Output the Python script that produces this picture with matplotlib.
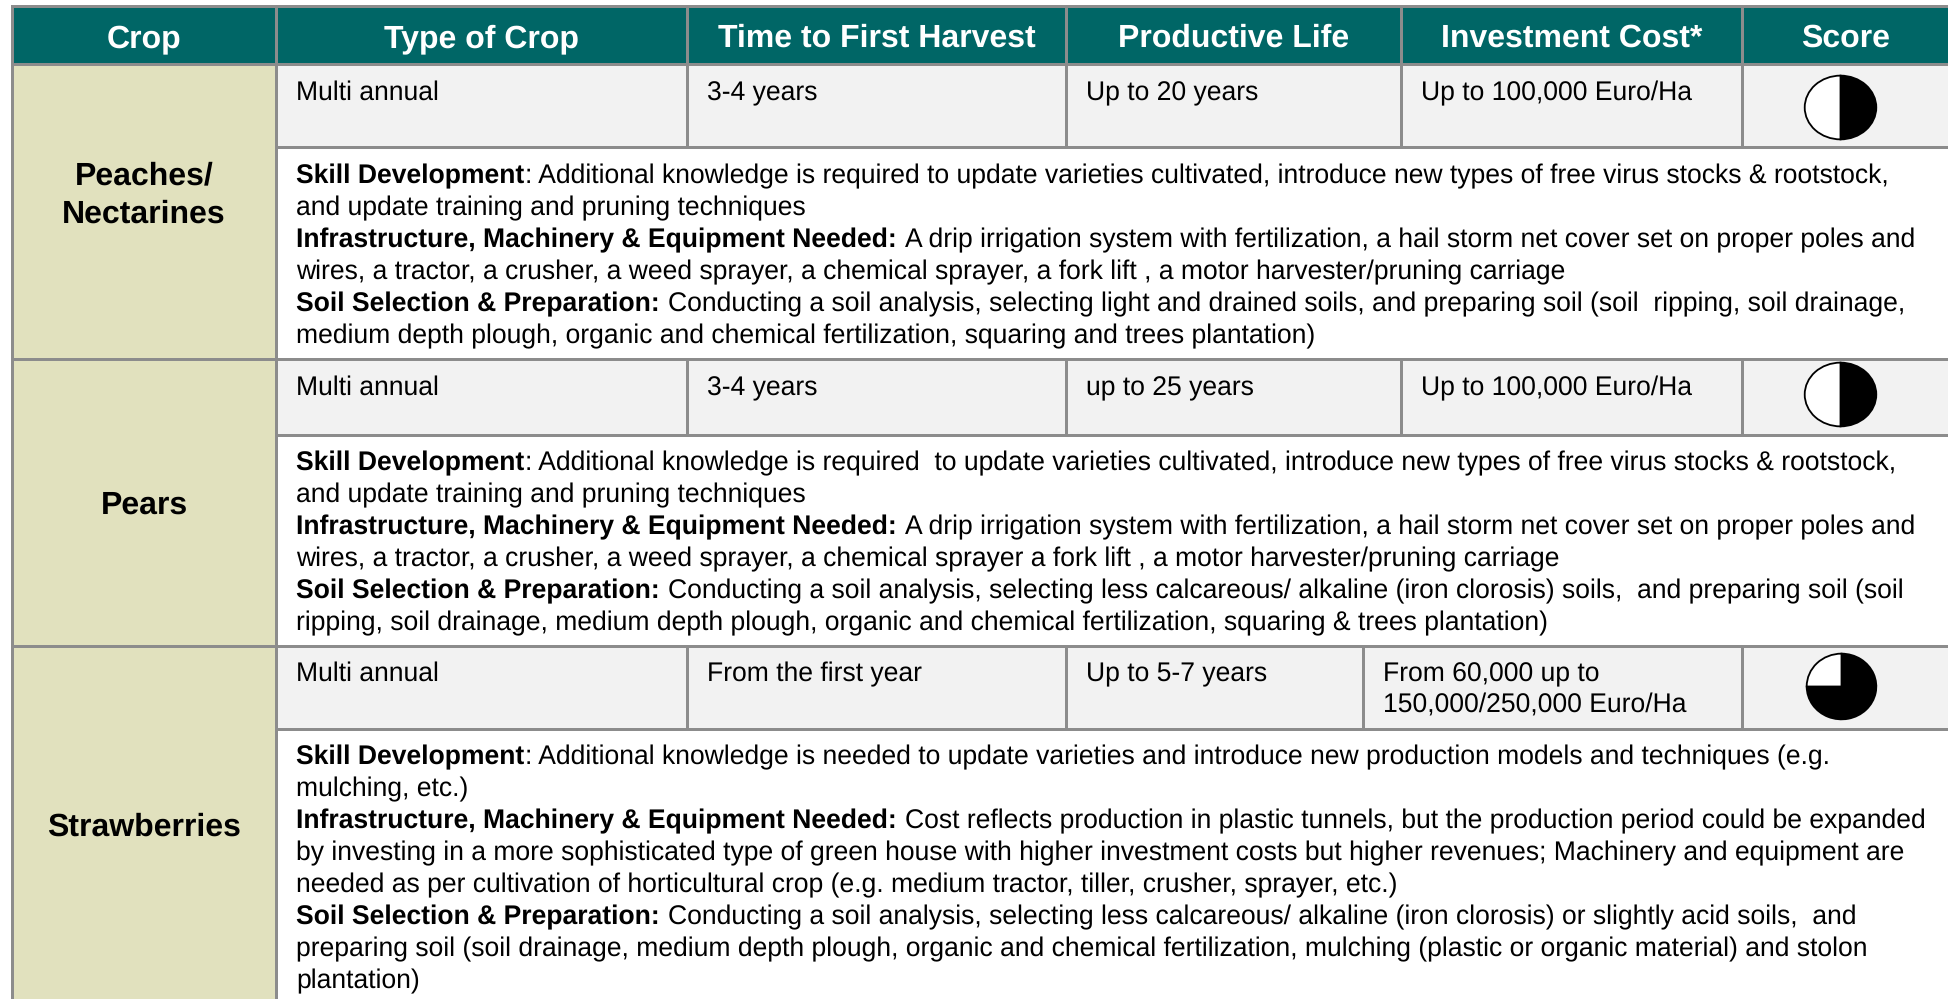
import matplotlib
matplotlib.use('Agg')
from matplotlib import pyplot as plt
from matplotlib.patches import Rectangle

plt.rcParams['font.family'] = ['Liberation Sans', 'DejaVu Sans']
plt.rcParams['text.hinting'] = 'no_hinting'
plt.rcParams['text.hinting_factor'] = 8

# table content
headers = ['Crop', 'Type of Crop', 'Time to First Harvest', 'Productive Life', 'Investment Cost*', 'Score']
crops = [['Peaches/', 'Nectarines'], ['Pears'], ['Strawberries']]
crop_type = ['Multi annual', 'Multi annual', 'Multi annual']
first_harvest = ['3-4 years', '3-4 years', 'From the first year']
productive_life = ['Up to 20 years', 'up to 25 years', 'Up to 5-7 years']
investment = [['Up to 100,000 Euro/Ha'], ['Up to 100,000 Euro/Ha'], ['From 60,000 up to', '150,000/250,000 Euro/Ha']]
scores = [0.5, 0.5, 0.75]

notes_peaches = [
    ('Skill Development', ': Additional knowledge is required to update varieties cultivated, introduce new types of free virus stocks & rootstock,'),
    ('', 'and update training and pruning techniques'),
    ('Infrastructure, Machinery & Equipment Needed:', ' A drip irrigation system with fertilization, a hail storm net cover set on proper poles and'),
    ('', 'wires, a tractor, a crusher, a weed sprayer, a chemical sprayer, a fork lift , a motor harvester/pruning carriage'),
    ('Soil Selection & Preparation:', ' Conducting a soil analysis, selecting light and drained soils, and preparing soil (soil  ripping, soil drainage,'),
    ('', 'medium depth plough, organic and chemical fertilization, squaring and trees plantation)'),
]
notes_pears = [
    ('Skill Development', ': Additional knowledge is required  to update varieties cultivated, introduce new types of free virus stocks & rootstock,'),
    ('', 'and update training and pruning techniques'),
    ('Infrastructure, Machinery & Equipment Needed:', ' A drip irrigation system with fertilization, a hail storm net cover set on proper poles and'),
    ('', 'wires, a tractor, a crusher, a weed sprayer, a chemical sprayer a fork lift , a motor harvester/pruning carriage'),
    ('Soil Selection & Preparation:', ' Conducting a soil analysis, selecting less calcareous/ alkaline (iron clorosis) soils,  and preparing soil (soil'),
    ('', 'ripping, soil drainage, medium depth plough, organic and chemical fertilization, squaring & trees plantation)'),
]
notes_straw = [
    ('Skill Development', ': Additional knowledge is needed to update varieties and introduce new production models and techniques (e.g.'),
    ('', 'mulching, etc.)'),
    ('Infrastructure, Machinery & Equipment Needed:', ' Cost reflects production in plastic tunnels, but the production period could be expanded'),
    ('', 'by investing in a more sophisticated type of green house with higher investment costs but higher revenues; Machinery and equipment are'),
    ('', 'needed as per cultivation of horticultural crop (e.g. medium tractor, tiller, crusher, sprayer, etc.)'),
    ('Soil Selection & Preparation:', ' Conducting a soil analysis, selecting less calcareous/ alkaline (iron clorosis) or slightly acid soils,  and'),
    ('', 'preparing soil (soil drainage, medium depth plough, organic and chemical fertilization, mulching (plastic or organic material) and stolon'),
    ('', 'plantation)'),
]
notes = [notes_peaches, notes_pears, notes_straw]

W, H = 1949, 999
TEAL = '#006666'
KHAKI = '#E1E1BE'
GREY = '#F2F2F2'
LINE = '#8C8C8C'
BIG = 32 * 0.72
BODY = 26.53 * 0.72
LW = 3 * 0.72

# layout in image pixels
col_x = [12, 276, 687, 1066, 1401, 1742, W]
head_top, head_bot = 6, 64
row_top = [64, 359, 646]
row_mid = [147, 435, 729]
row_bot = [359, 646, H]
top_base = [100, 395, 681]
note_base = [183, 470, 764]
crop_base = [[184, 223], [514], [836]]
cost_x = [1401, 1401, 1363]
pie_box = [(1804, 75, 73, 65), (1804, 362, 73, 65), (1806, 653, 71, 67)]
PAD = 20

fig = plt.figure(figsize=(W / 100, H / 100), dpi=100)
ax = fig.add_axes([0, 0, 1, 1])
ax.set_xlim(0, W)
ax.set_ylim(H, 0)
ax.axis('off')


def box(x0, y0, x1, y1, color):
    ax.add_patch(Rectangle((x0, y0), x1 - x0, y1 - y0, facecolor=color, edgecolor='none', zorder=1))


def hline(y, x0, x1):
    ax.plot([x0, x1], [y, y], color=LINE, lw=LW, solid_capstyle='projecting', zorder=2)


def vline(x, y0, y1):
    ax.plot([x, x], [y0, y1], color=LINE, lw=LW, solid_capstyle='projecting', zorder=2)


def note_line(x, y, bold, rest):
    # bold lead-in followed by regular text on the same baseline
    if bold:
        t = ax.text(x, y, bold, fontsize=BODY, fontweight='bold', color='black', va='baseline', zorder=3)
        x = t.get_window_extent(fig.canvas.get_renderer()).x1 + 1
    if rest.startswith(' '):
        x += BODY / 0.72 * 0.278
        rest = rest[1:]
    ax.text(x, y, rest, fontsize=BODY, color='black', va='baseline', zorder=3)


# header
box(col_x[0], head_top, W, head_bot, TEAL)
for i, name in enumerate(headers):
    ax.text((col_x[i] + col_x[i + 1]) / 2, 47, name, fontsize=BIG, fontweight='bold', color='white',
            ha='center', va='baseline', zorder=3)
    vline(col_x[i], head_top, head_bot)
hline(head_top, col_x[0], W)

# rows
for r in range(3):
    box(col_x[0], row_top[r], col_x[1], row_bot[r], KHAKI)
    box(col_x[1], row_top[r], W, row_mid[r], GREY)

    for line, y in zip(crops[r], crop_base[r]):
        ax.text(144, y, line, fontsize=BIG, fontweight='bold', color='black', ha='center', va='baseline', zorder=3)

    ax.text(col_x[1] + 20, top_base[r], crop_type[r], fontsize=BODY, va='baseline', zorder=3)
    ax.text(col_x[2] + 20, top_base[r], first_harvest[r], fontsize=BODY, va='baseline', zorder=3)
    ax.text(col_x[3] + 20, top_base[r], productive_life[r], fontsize=BODY, va='baseline', zorder=3)
    for k, line in enumerate(investment[r]):
        ax.text(cost_x[r] + PAD, top_base[r] + k * 32, line, fontsize=BODY, va='baseline', zorder=3)

    for k, (bold, rest) in enumerate(notes[r]):
        note_line(col_x[1] + 20, note_base[r] + k * 32, bold, rest)

    vline(col_x[0], row_top[r], row_bot[r])
    vline(col_x[1], row_top[r], row_bot[r])
    vline(col_x[2], row_top[r], row_mid[r])
    vline(col_x[3], row_top[r], row_mid[r])
    vline(cost_x[r], row_top[r], row_mid[r])
    vline(col_x[5], row_top[r], row_mid[r])
    hline(row_top[r], col_x[0], W)
    hline(row_mid[r], col_x[1], W)

    # score circle
    px, py, pw, ph = pie_box[r]
    pie_ax = fig.add_axes([px / W, 1 - (py + ph) / H, pw / W, ph / H])
    pie_ax.pie([scores[r], 1 - scores[r]], colors=['black', 'white'], startangle=90, counterclock=False,
               wedgeprops={'edgecolor': 'black', 'linewidth': 1.3})
    pie_ax.set_xlim(-1.02, 1.02)
    pie_ax.set_ylim(-1.02, 1.02)
    pie_ax.set_aspect('auto')
    pie_ax.patch.set_alpha(0)

fig.savefig('out.png', dpi=100)
